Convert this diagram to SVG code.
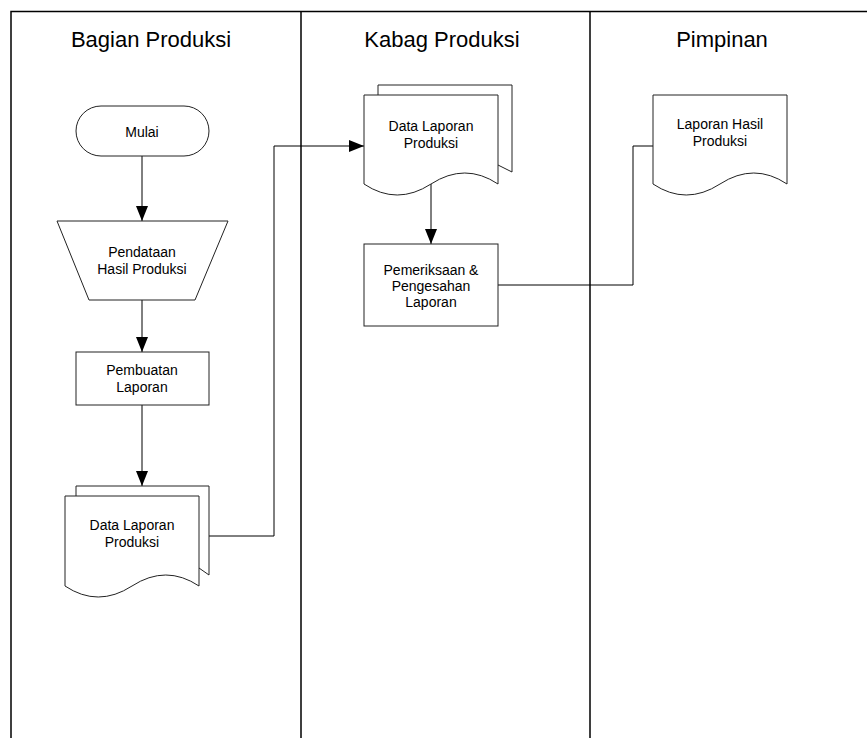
<svg xmlns="http://www.w3.org/2000/svg" width="867" height="738" viewBox="0 0 867 738">
<defs>
<style>
.frame{fill:none;stroke:#000;stroke-width:1.5}
.shape{fill:#fff;stroke:#222;stroke-width:1}
.conn{fill:none;stroke:#000;stroke-width:1}
.title{font-family:"Liberation Sans",Arial,sans-serif;font-size:22px;fill:#000;text-anchor:middle}
.lbl{font-family:"Liberation Sans",Arial,sans-serif;font-size:14px;fill:#000;text-anchor:middle}
</style>
<marker id="arr" markerWidth="16" markerHeight="12" refX="15" refY="6" orient="auto" markerUnits="userSpaceOnUse">
<path d="M0,0 L15,6 L0,12 Z" fill="#000"/>
</marker>
</defs>
<rect width="867" height="738" fill="#fff"/>
<g id="lanes">
<path class="frame" d="M11,738 V11.5 H867 M301,11.5 V738 M590,11.5 V738"/>
<text class="title" x="151" y="47">Bagian Produksi</text>
<text class="title" x="442" y="47">Kabag Produksi</text>
<text class="title" x="722" y="47">Pimpinan</text>
</g>
<g id="connectors">
<line class="conn" x1="142" y1="156" x2="142" y2="221" marker-end="url(#arr)"/>
<line class="conn" x1="142" y1="300" x2="142" y2="352" marker-end="url(#arr)"/>
<line class="conn" x1="142" y1="405" x2="142" y2="486" marker-end="url(#arr)"/>
<polyline class="conn" points="209,536 274,536 274,146 364,146" marker-end="url(#arr)"/>
<line class="conn" x1="431" y1="184" x2="431" y2="244" marker-end="url(#arr)"/>
<polyline class="conn" points="498,285 633,285 633,146 653,146"/>
</g>
<g id="mulai">
<rect class="shape" x="76" y="106" width="133" height="50" rx="25" ry="25"/>
<text class="lbl" x="142" y="137">Mulai</text>
</g>
<g id="pendataan">
<polygon class="shape" points="57,221 228,221 195,300 89,300"/>
<text class="lbl" x="142" y="257">Pendataan</text>
<text class="lbl" x="142" y="274">Hasil Produksi</text>
</g>
<g id="pembuatan">
<rect class="shape" x="76" y="352" width="133" height="53"/>
<text class="lbl" x="142" y="375">Pembuatan</text>
<text class="lbl" x="142" y="392">Laporan</text>
</g>
<g id="doc-bagian">
<path class="shape" d="M76,496 V486 H209 V575 L199,568"/>
<path class="shape" d="M65,496 H199 V586 Q166,564 132,586 T65,586 Z"/>
<text class="lbl" x="132" y="530">Data Laporan</text>
<text class="lbl" x="132" y="547">Produksi</text>
</g>
<g id="doc-kabag">
<path class="shape" d="M378,95 V85 H512 V172 L498,165"/>
<path class="shape" d="M364,95 H498 V184 Q465,162 431,184 T364,184 Z"/>
<text class="lbl" x="431" y="131">Data Laporan</text>
<text class="lbl" x="431" y="148">Produksi</text>
</g>
<g id="pemeriksaan">
<rect class="shape" x="364" y="244" width="134" height="82"/>
<text class="lbl" x="431" y="275">Pemeriksaan &amp;</text>
<text class="lbl" x="431" y="291">Pengesahan</text>
<text class="lbl" x="431" y="307">Laporan</text>
</g>
<g id="laporan-hasil">
<path class="shape" d="M653,95 H787 V184 Q754,162 720,184 T653,184 Z"/>
<text class="lbl" x="720" y="129">Laporan Hasil</text>
<text class="lbl" x="720" y="146">Produksi</text>
</g>
</svg>
